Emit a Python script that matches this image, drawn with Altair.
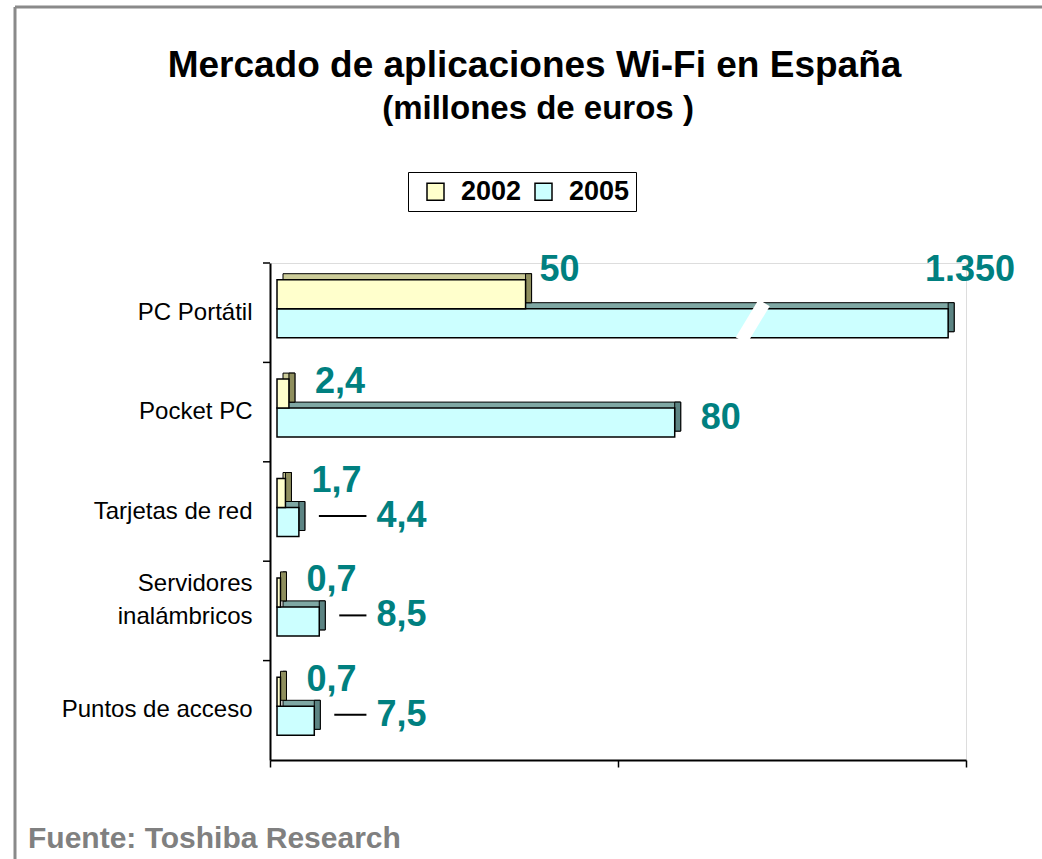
import altair as alt
import pandas as pd

# ---------------- data ----------------
categories = ["PC Portátil", "Pocket PC", "Tarjetas de red",
              "Servidores inalámbricos", "Puntos de acceso"]
years = ["2002", "2005"]
values_2002 = [50, 2.4, 1.7, 0.7, 0.7]
values_2005 = [1350, 80, 4.4, 8.5, 7.5]

title_text = ["Mercado de aplicaciones Wi-Fi en España"]
subtitle_text = ["(millones de euros )"]
source_text = ["Fuente: Toshiba Research"]

# ---------------- styles ----------------
front_colors = ["#FFFFCC", "#CCFFFF"]
top_colors = ["#CCCC99", "#7FA8A4"]
side_colors = ["#8F8F5E", "#5C8483"]
label_color = "#008080"
FONT = "Liberation Sans, Arial, sans-serif"

X_MAX = 140          # axis extent
CAP = 135            # visible length of the broken (1.350) bar
DEPTH = 6            # 3D depth in px
X0 = 7               # bars start 7 px right of the axis
BAR = 29             # bar thickness
Y_OFF = {"2002": -18.5, "2005": 10.5}


def es_format(v):
    if float(v).is_integer():
        return f"{int(v):,}".replace(",", ".")
    return f"{v}".replace(".", ",")


rows = []
for c, a, b in zip(categories, values_2002, values_2005):
    for y, v in (("2002", a), ("2005", b)):
        rows.append({"cat": c, "year": y, "value": v,
                     "label": es_format(v), "disp": min(v, CAP)})
df = pd.DataFrame(rows)

W, H = 696, 497

xscale = alt.Scale(domain=[0, X_MAX], nice=False, zero=True)
xaxis = alt.Axis(values=[0, 70, 140], labels=False, title=None, grid=False,
                 domainColor="black", domainWidth=2, tickColor="black",
                 tickWidth=1.5, tickSize=7)
yscale = alt.Scale(domain=categories, paddingInner=0, paddingOuter=0)
yaxis = alt.Axis(title=None, ticks=False, domainColor="black", domainWidth=2,
                 labelFont=FONT, labelFontSize=24, labelColor="black",
                 labelPadding=18, labelLimit=400, labelLineHeight=33,
                 labelOffset={"condition": {"test": "datum.label == 'Servidores inalámbricos'",
                                            "value": -27}, "value": 0},
                 labelExpr="datum.label == 'Servidores inalámbricos' ? ['Servidores', 'inalámbricos'] : datum.label")

xenc = alt.X("disp:Q", scale=xscale, axis=xaxis)
yenc = alt.Y("cat:N", scale=yscale, axis=yaxis, sort=categories)

base = alt.Chart(df)

legend = alt.Legend(title=None, orient="none", legendX=138, legendY=-91,
                    direction="horizontal", symbolType="square",
                    symbolSize=289, symbolStrokeColor="black",
                    symbolStrokeWidth=1.5, labelFont=FONT, labelFontSize=27,
                    labelFontWeight="bold", labelColor="black",
                    strokeColor="black", padding=6, columnPadding=0,
                    labelOffset=12, symbolOffset=8)

layers = []
for i, yr in (1, "2005"), (0, "2002"):
    yo = Y_OFF[yr]
    b = base.transform_filter(alt.datum.year == yr)
    top = b.mark_bar(size=BAR, xOffset=X0 + DEPTH, x2Offset=X0 + DEPTH,
                     yOffset=yo - DEPTH, fill=top_colors[i], stroke="black",
                     strokeWidth=1).encode(x=xenc, y=yenc)
    side = b.mark_bar(size=BAR, xOffset=X0, x2Offset=X0 + DEPTH,
                      yOffset=yo - DEPTH, fill=side_colors[i], stroke="black",
                      strokeWidth=1).encode(x=xenc, x2=alt.X2("disp:Q"), y=yenc)
    front = b.mark_bar(size=BAR, xOffset=X0, x2Offset=X0, yOffset=yo,
                       stroke="black", strokeWidth=1.5).encode(
        x=xenc, y=yenc,
        fill=alt.Fill("year:N", scale=alt.Scale(domain=years, range=front_colors),
                      legend=legend))
    layers += [top, side, front]

# break in the 1.350 bar
brk = base.transform_filter(alt.datum.value > CAP).transform_calculate(
    bx="94.8", bx2="99.4").mark_rule(color="white", strokeWidth=13).encode(
    x=alt.X("bx:Q", scale=xscale, axis=xaxis),
    x2="bx2:Q",
    y=alt.Y("cat:N", scale=yscale, axis=yaxis, bandPosition=0.78),
    y2=alt.Y2("cat:N", bandPosition=0.40))

# y-axis ticks at band boundaries
ticks = alt.Chart(pd.DataFrame({"cat": categories})).mark_rule(
    color="black", strokeWidth=1.5).encode(
    y=alt.Y("cat:N", scale=yscale, axis=yaxis, bandPosition=0),
    x=alt.value(-7), x2=alt.value(0))

txt = dict(font=FONT, fontSize=36, fontWeight="bold", color=label_color,
           baseline="middle")

lab_2002_big = base.transform_filter(
    (alt.datum.year == "2002") & (alt.datum.value >= 10)).mark_text(
    align="left", xOffset=X0 + 14, yOffset=Y_OFF["2002"] - 24, **txt).encode(
    x=xenc, y=yenc, text="label:N")
lab_2002_small = base.transform_filter(
    (alt.datum.year == "2002") & (alt.datum.value < 10)).mark_text(
    align="left", xOffset=X0 + 26, yOffset=Y_OFF["2002"] - 12, **txt).encode(
    x=xenc, y=yenc, text="label:N")
lab_2005_mid = base.transform_filter(
    (alt.datum.year == "2005") & (alt.datum.value >= 10) & (alt.datum.value <= CAP)).mark_text(
    align="left", xOffset=X0 + 26, yOffset=Y_OFF["2005"] - 5, **txt).encode(
    x=xenc, y=yenc, text="label:N")
lab_2005_cap = base.transform_filter(
    (alt.datum.year == "2005") & (alt.datum.value > CAP)).mark_text(
    align="right", xOffset=X0 + 67, yOffset=Y_OFF["2005"] - 53, **txt).encode(
    x=xenc, y=yenc, text="label:N")

small05 = base.transform_filter(
    (alt.datum.year == "2005") & (alt.datum.value < 10)).transform_calculate(
    lx="20")
lab_2005_small = small05.mark_text(
    align="left", xOffset=X0, yOffset=Y_OFF["2005"] - 6, **txt).encode(
    x=alt.X("lx:Q", scale=xscale, axis=xaxis), y=yenc, text="label:N")
leader = small05.mark_rule(color="black", strokeWidth=2, xOffset=X0 + 20,
                           x2Offset=-3, yOffset=Y_OFF["2005"] - 6).encode(
    x=xenc, x2="lx:Q", y=yenc)

# titles, outer frame (top and left edges) and source note
one = pd.DataFrame({"k": [0]})
title = alt.Chart(pd.DataFrame({"t": title_text})).mark_text(
    align="center", baseline="alphabetic", font=FONT, fontSize=37,
    fontWeight="bold", color="black").encode(
    x=alt.value(264.5), y=alt.value(-186), text="t:N")
subtitle = alt.Chart(pd.DataFrame({"t": subtitle_text})).mark_text(
    align="center", baseline="alphabetic", font=FONT, fontSize=33,
    fontWeight="bold", color="black").encode(
    x=alt.value(268), y=alt.value(-144), text="t:N")
frame_top = alt.Chart(one).mark_rule(color="#8A8A8A", strokeWidth=3).encode(
    x=alt.value(-255), x2=alt.value(W + 80), y=alt.value(-256))
frame_left = alt.Chart(one).mark_rule(color="#8A8A8A", strokeWidth=3).encode(
    x=alt.value(-255), y=alt.value(-256), y2=alt.value(H + 110))
source = alt.Chart(pd.DataFrame({"t": source_text})).mark_text(
    align="left", baseline="alphabetic", font=FONT, fontSize=30,
    fontWeight="bold", color="#808080").encode(
    x=alt.value(-242), y=alt.value(H + 88), text="t:N")

chart = alt.layer(*layers, brk, ticks, leader, lab_2002_big, lab_2002_small,
                  lab_2005_mid, lab_2005_cap, lab_2005_small,
                  title, subtitle, frame_top, frame_left, source).properties(
    width=W, height=H,
    autosize=alt.AutoSizeParams(type="none"),
    padding={"left": 270, "top": 263, "right": 76, "bottom": 99},
).configure_view(stroke=None).configure(background="white")

chart.save("out.html", embed_options={"renderer": "svg", "actions": False})
